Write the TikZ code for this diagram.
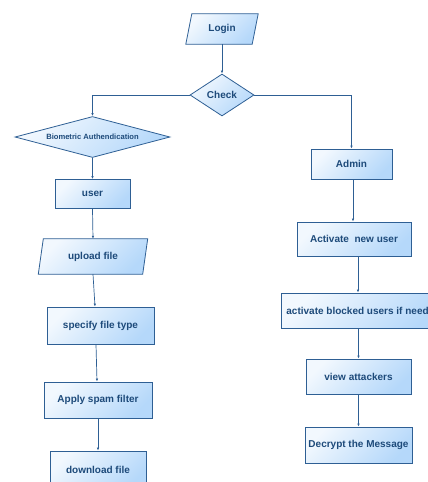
\documentclass[tikz,border=0pt]{standalone}
\usepackage{fontspec}
\setmainfont{Liberation Sans}
\usetikzlibrary{shapes.geometric,arrows.meta}
\definecolor{edgec}{HTML}{2E5F94}
\definecolor{textc}{HTML}{1D4A7A}
\definecolor{filla}{HTML}{F2F8FE}
\definecolor{fillb}{HTML}{B5D8FA}
\tikzset{
  shadefill/.style={top color=filla, bottom color=fillb, shading angle=45},
  box/.style={rectangle, draw=edgec, line width=0.8pt, shadefill, font=\bfseries\fontsize{10}{12}\selectfont, text=textc, inner sep=0pt},
  ghost/.style={rectangle, inner sep=0pt, font=\bfseries\fontsize{10}{12}\selectfont, text=textc},
  para/.style={draw=edgec, line width=0.8pt, shadefill},
  dia/.style={diamond, draw=edgec, line width=0.8pt, shadefill, inner sep=0pt, text=textc},
  conn/.style={draw=edgec, line width=0.7pt, -{Latex[length=3pt,width=2.5pt]}}
}
\begin{document}
\begin{tikzpicture}[x=1pt,y=-1pt]
\useasboundingbox (0,0) rectangle (428,482);
\clip (0,0) rectangle (428,482);
% Login parallelogram
\node[ghost, minimum width=66pt, minimum height=30pt] (login) at (222,29) {};
\path[para] ([xshift=3pt]login.north west) -- ([xshift=3pt]login.north east) -- ([xshift=-3pt]login.south east) -- ([xshift=-3pt]login.south west) -- cycle;
\node[ghost] at (login.center) {Login};
% Check diamond
\node[dia, aspect=1.5, minimum width=64pt, minimum height=42pt, font=\bfseries\fontsize{10}{12}\selectfont] (check) at (222,95) {Check};
% Biometric diamond
\node[dia, aspect=3.8, minimum width=155pt, minimum height=41pt, font=\bfseries\fontsize{7.6}{9}\selectfont] (bio) at (92.5,137) {Biometric Authendication};
% left column
\node[box, minimum width=75pt, minimum height=29pt] (user) at (92.5,194) {user};
\node[ghost, minimum width=104pt, minimum height=35pt] (upload) at (93,256.5) {};
\path[para] ([xshift=2.5pt]upload.north west) -- ([xshift=2.5pt]upload.north east) -- ([xshift=-2.5pt]upload.south east) -- ([xshift=-2.5pt]upload.south west) -- cycle;
\node[ghost] at (upload.center) {upload file};
\node[box, minimum width=107pt, minimum height=37pt] (spec) at (100.5,325.5) {specify file type};
\node[box, minimum width=108pt, minimum height=36pt] (spam) at (98,400) {Apply spam filter};
\node[box, minimum width=96pt, minimum height=38pt] (down) at (98,470) {download file};
% right column
\node[box, minimum width=81pt, minimum height=30pt] (admin) at (351.5,164) {Admin};
\node[box, minimum width=114pt, minimum height=34pt] (act) at (354,239) {Activate\ \ new user};
\node[box, minimum height=35pt, inner xsep=5pt, anchor=west] (blk) at (281,310.5) {activate blocked users if needed};
\node[box, minimum width=105pt, minimum height=35pt] (view) at (358.5,376.5) {view attackers};
\node[box, minimum width=107pt, minimum height=36pt] (dec) at (358.5,445) {Decrypt the Message};
% connectors
\draw[conn] (login.south) -- (check.north);
\draw[conn] (check.west) -| (bio.north);
\draw[conn] (check.east) -| (admin.north);
\draw[conn] (bio.south) -- (user.north);
\draw[conn] (user.south) -- (upload.north);
\draw[conn] (upload.south) -- ([xshift=-5.5pt]spec.north);
\draw[conn] ([xshift=-4.5pt]spec.south) -- ([xshift=-1pt]spam.north);
\draw[conn] (spam.south) -- (down.north);
\draw[conn] ([xshift=1.5pt]admin.south) -- ([xshift=-1pt]act.north);
\draw[conn] ([xshift=4pt]act.south) -- ([xshift=4pt]act.south |- blk.north);
\draw[conn] (blk.south -| view.north) -- (view.north);
\draw[conn] (view.south) -- (dec.north);
\end{tikzpicture}
\end{document}
